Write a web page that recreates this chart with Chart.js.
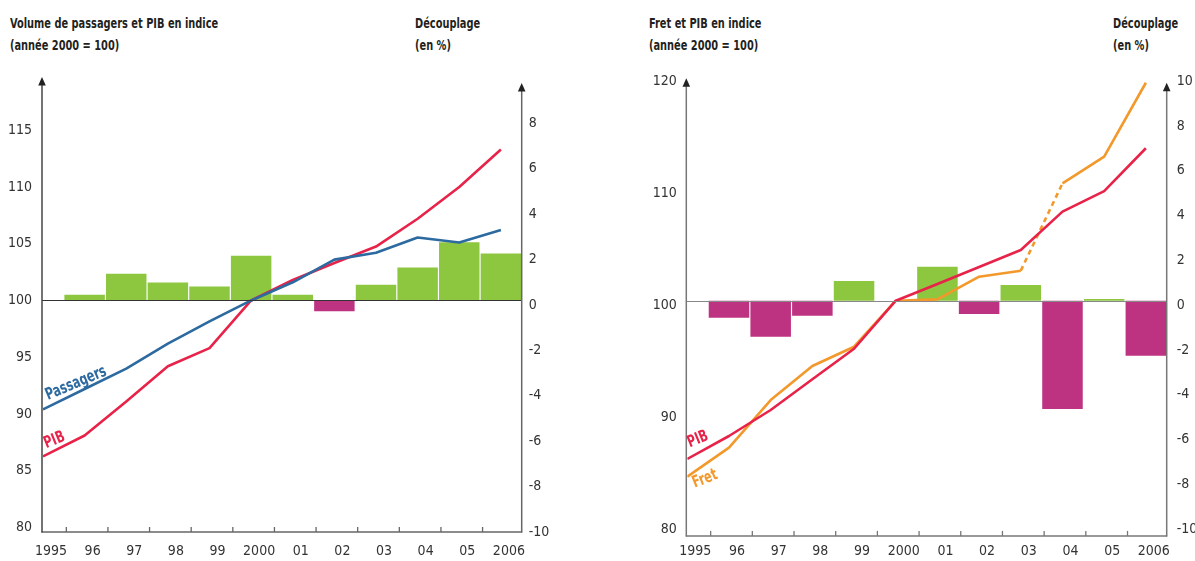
<!DOCTYPE html>
<html><head><meta charset="utf-8">
<script src="https://cdn.jsdelivr.net/npm/chart.js@4.4.1/dist/chart.umd.min.js"></script>
<style>
html,body{margin:0;padding:0;background:#fff;}
body{width:1195px;height:561px;position:relative;overflow:hidden;font-family:"Liberation Sans Narrow","DejaVu Sans Condensed",sans-serif;color:#231f20;}
.t{position:absolute;font-weight:bold;font-size:14px;line-height:16px;white-space:nowrap;transform:scaleX(0.78);transform-origin:0 0;}
canvas{position:absolute;top:0;}
</style></head><body>
<div class="t" style="left:10px;top:15px">Volume de passagers et PIB en indice</div>
<div class="t" style="left:10px;top:37px">(année 2000 = 100)</div>
<div class="t" style="left:415px;top:15px">Découplage</div>
<div class="t" style="left:415px;top:37px">(en %)</div>
<div class="t" style="left:649px;top:15px">Fret et PIB en indice</div>
<div class="t" style="left:649px;top:37px">(année 2000 = 100)</div>
<div class="t" style="left:1113px;top:15px">Découplage</div>
<div class="t" style="left:1113px;top:37px">(en %)</div>
<canvas id="c1" width="597" height="561" style="left:0px"></canvas>
<canvas id="c2" width="598" height="561" style="left:597px"></canvas>
<script>
// ---- data ----
const years = [1995,1996,1997,1998,1999,2000,2001,2002,2003,2004,2005,2006];
const yearLabels = ['1995','96','97','98','99','2000','01','02','03','04','05','2006'];

const passagers      = [90.4, 92.2, 94.0, 96.2, 98.15, 100, 101.6, 103.6, 104.2, 105.55, 105.1, 106.2];
const pibPassagers   = [86.26, 88.1, 91.1, 94.2, 95.8, 100, 101.8, 103.3, 104.75, 107.2, 110.0, 113.3];
const decouplagePassagers = [null, 0.25, 1.18, 0.79, 0.62, 1.97, 0.25, -0.48, 0.69, 1.45, 2.56, 2.07];

const fret           = [84.29, 86.88, 91.13, 94.17, 95.89, 100, 100.12, 102.14, 102.68, 110.48, 112.86, 119.46];
const pibFret        = [85.87, 87.92, 90.24, 92.99, 95.71, 100, 101.49, 103.01, 104.53, 107.95, 109.79, 113.61];
const decouplageFret = [null, -0.76, -1.61, -0.67, 0.88, 0, 1.52, -0.59, 0.70, -4.83, 0.08, -2.46];

const leftTicks1  = [80, 85, 90, 95, 100, 105, 110, 115];
const rightTicks1 = [-10, -8, -6, -4, -2, 0, 2, 4, 6, 8];
const leftTicks2  = [80, 90, 100, 110, 120];
const rightTicks2 = [-10, -8, -6, -4, -2, 0, 2, 4, 6, 8, 10];

// ---- styles ----
const FONT = '"Liberation Sans Narrow","DejaVu Sans Condensed",sans-serif';
const GREEN = '#8dc63f', MAGENTA = '#be3282', RED = '#e8234a', BLUE = '#2c6aa0', ORANGE = '#f3992b';
Chart.defaults.font.family = FONT;
Chart.defaults.font.size = 14;
Chart.defaults.color = '#333';

const framePlugin = {
  id: 'frame',
  afterDatasetsDraw(chart, args, o) {
    const ctx = chart.ctx;
    const {left, right, top, bottom} = chart.chartArea;
    const xs = chart.scales.x, y1 = chart.scales.y, y2 = chart.scales.y2;
    ctx.save();
    // zero line
    const y0 = Math.round(y2.getPixelForValue(0)) + 0.5;
    ctx.strokeStyle = o.zeroColor; ctx.lineWidth = 1.2;
    ctx.beginPath(); ctx.moveTo(left - 1, y0); ctx.lineTo(right, y0); ctx.stroke();
    // bottom axis
    ctx.strokeStyle = o.bottomColor; ctx.lineWidth = 1.5;
    ctx.beginPath(); ctx.moveTo(left - 1.5, bottom); ctx.lineTo(right + 0.5, bottom); ctx.stroke();
    // tick marks (inward, between years)
    ctx.lineWidth = 1.3;
    for (let i = 0; i < years.length - 1; i++) {
      const xp = xs.getPixelForValue(years[i] + 0.56);
      ctx.beginPath(); ctx.moveTo(xp, bottom); ctx.lineTo(xp, bottom - 5); ctx.stroke();
    }
    // vertical axes with arrows
    const axis = (x, col, tipY) => {
      ctx.strokeStyle = col; ctx.fillStyle = '#222'; ctx.lineWidth = 1.5;
      ctx.beginPath(); ctx.moveTo(x, bottom + 0.5); ctx.lineTo(x, tipY + 6); ctx.stroke();
      ctx.beginPath(); ctx.moveTo(x, tipY); ctx.lineTo(x - 3.8, tipY + 8.5); ctx.lineTo(x + 3.8, tipY + 8.5); ctx.closePath(); ctx.fill();
    };
    axis(left - 1, o.leftColor, top + o.leftTip);
    axis(right, o.rightColor, top + o.rightTip);
    // series labels
    for (const l of o.labels) {
      const px = xs.getPixelForValue(l.x), py = y1.getPixelForValue(l.y);
      ctx.save();
      ctx.translate(px + l.dx, py + l.dy);
      ctx.rotate(l.angle * Math.PI / 180);
      ctx.scale(0.76, 1);
      ctx.font = 'bold 16.5px ' + FONT;
      ctx.fillStyle = l.color;
      ctx.textBaseline = 'alphabetic';
      ctx.fillText(l.text, 0, 0);
      ctx.restore();
    }
    ctx.restore();
  }
};

function build(id, c) {
  const barPts = years.map((x, i) => ({x, y: c.bars[i]})).filter(p => p.y !== null);
  const lineSets = c.lines.map(l => ({
    type: 'line', label: l.label, yAxisID: 'y', order: 0,
    data: years.map((x, i) => ({x, y: l.values[i]})),
    borderColor: l.color, borderWidth: 2.6, pointRadius: 0, tension: 0, fill: false,
    borderJoinStyle: 'round',
    segment: { borderDash: s => (l.dashFrom !== undefined && s.p0DataIndex === l.dashFrom) ? [5, 4] : undefined }
  }));
  return new Chart(document.getElementById(id), {
    type: 'bar',
    data: { datasets: [
      ...lineSets,
      { type: 'bar', label: 'Découplage', yAxisID: 'y2', order: 5, data: barPts,
        backgroundColor: barPts.map(p => p.y >= 0 ? GREEN : MAGENTA),
        barPercentage: 0.972, categoryPercentage: 1, borderWidth: 0 }
    ]},
    options: {
      responsive: false, animation: false, events: [],
      layout: { padding: { top: c.top, left: 0, right: 0, bottom: 0 } },
      plugins: { legend: { display: false }, tooltip: { enabled: false }, frame: c.frame },
      scales: {
        x: { type: 'linear', position: 'bottom', min: 1995, max: 2006.5, offset: false,
             afterBuildTicks: s => { s.ticks = years.map(v => ({value: v})); },
             afterFit: s => { s.height = c.xH; },
             grid: { display: false, drawTicks: false }, border: { display: false },
             ticks: { autoSkip: false, maxRotation: 0, padding: c.xPad, labelOffset: 8,
                      callback: v => yearLabels[years.indexOf(v)] } },
        y: { type: 'linear', position: 'left', min: c.yMin, max: c.yMax,
             afterBuildTicks: s => { s.ticks = c.leftTicks.map(v => ({value: v})); },
             afterFit: s => { s.width = c.yW; },
             grid: { display: false, drawTicks: false }, border: { display: false },
             ticks: { autoSkip: false, padding: c.yPad, labelOffset: c.yOff, callback: v => String(v) } },
        y2: { type: 'linear', position: 'right', min: c.y2Min, max: c.y2Max,
             afterBuildTicks: s => { s.ticks = c.rightTicks.map(v => ({value: v})); },
             afterFit: s => { s.width = c.y2W; },
             grid: { display: false, drawTicks: false }, border: { display: false },
             ticks: { autoSkip: false, padding: c.y2Pad, labelOffset: 4.5, callback: v => String(v) } }
      }
    },
    plugins: [framePlugin]
  });
}

build('c1', {
  bars: decouplagePassagers,
  lines: [
    { label: 'Passagers', values: passagers, color: BLUE },
    { label: 'PIB', values: pibPassagers, color: RED }
  ],
  top: 78, xH: 29, xPad: 11, yW: 43, y2W: 75.3, yPad: 11, y2Pad: 7, yOff: 0,
  yMin: 79.6, yMax: 119.6, y2Min: -10.2, y2Max: 9.8,
  leftTicks: leftTicks1, rightTicks: rightTicks1,
  frame: { zeroColor: '#333', bottomColor: '#666', leftColor: '#444', rightColor: '#666', leftTip: -1, rightTip: 5,
    labels: [
      { text: 'Passagers', x: 1995.12, y: 90.7, dx: 0, dy: -6, angle: -23, color: BLUE },
      { text: 'PIB', x: 1995.08, y: 86.45, dx: 0, dy: -6, angle: -22, color: RED }
    ] }
});

build('c2', {
  bars: decouplageFret,
  lines: [
    { label: 'PIB', values: pibFret, color: RED },
    { label: 'Fret', values: fret, color: ORANGE, dashFrom: 8 }
  ],
  top: 76.7, xH: 25.1, xPad: 7, yW: 90.3, y2W: 28.3, yPad: 10.6, y2Pad: 10, yOff: 4.5,
  yMin: 79, yMax: 120, y2Min: -10.5, y2Max: 10,
  leftTicks: leftTicks2, rightTicks: rightTicks2,
  frame: { zeroColor: '#888', bottomColor: '#777', leftColor: '#777', rightColor: '#777', leftTip: 1.5, rightTip: 6,
    labels: [
      { text: 'PIB', x: 1995.06, y: 86.1, dx: 0, dy: -9, angle: -22, color: RED },
      { text: 'Fret', x: 1995.18, y: 84.9, dx: 0, dy: 18, angle: -22, color: ORANGE }
    ] }
});
</script>
</body></html>
